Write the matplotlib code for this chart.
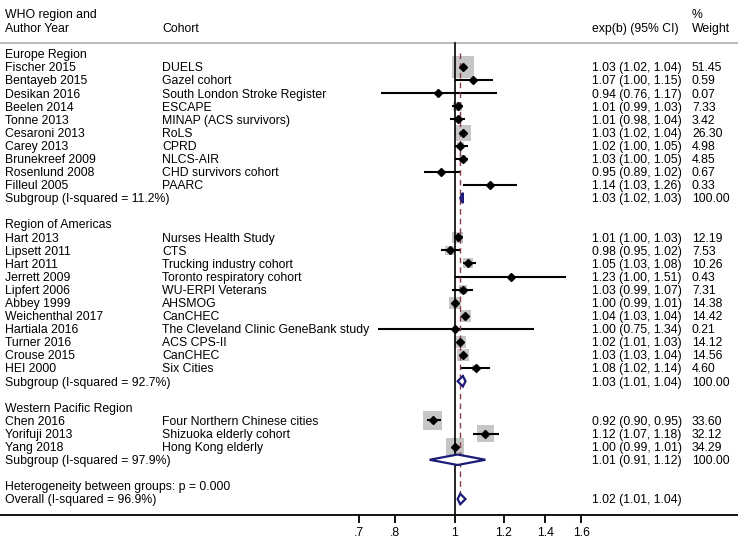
import matplotlib
matplotlib.use("Agg")
import matplotlib.pyplot as plt
import numpy as np
from matplotlib.patches import Polygon
from matplotlib.ticker import FixedLocator, FixedFormatter, NullLocator

plt.rcParams['font.family'] = ['Liberation Sans', 'DejaVu Sans']
FONT_SIZE = 8.8

# Europe Region
eur_author = ["Fischer 2015", "Bentayeb 2015", "Desikan 2016", "Beelen 2014",
              "Tonne 2013", "Cesaroni 2013", "Carey 2013", "Brunekreef 2009",
              "Rosenlund 2008", "Filleul 2005"]
eur_cohort = ["DUELS", "Gazel cohort", "South London Stroke Register", "ESCAPE",
              "MINAP (ACS survivors)", "RoLS", "CPRD", "NLCS-AIR",
              "CHD survivors cohort", "PAARC"]
eur_est = [1.03, 1.07, 0.94, 1.01, 1.01, 1.03, 1.02, 1.03, 0.95, 1.14]
eur_lo = [1.02, 1.00, 0.76, 0.99, 0.98, 1.02, 1.00, 1.00, 0.89, 1.03]
eur_hi = [1.04, 1.15, 1.17, 1.03, 1.04, 1.04, 1.05, 1.05, 1.02, 1.26]
eur_wt = [51.45, 0.59, 0.07, 7.33, 3.42, 26.30, 4.98, 4.85, 0.67, 0.33]
eur_sub = (1.03, 1.02, 1.03)
eur_i2 = 11.2

# Region of Americas
amr_author = ["Hart 2013", "Lipsett 2011", "Hart 2011", "Jerrett 2009",
              "Lipfert 2006", "Abbey 1999", "Weichenthal 2017", "Hartiala 2016",
              "Turner 2016", "Crouse 2015", "HEI 2000"]
amr_cohort = ["Nurses Health Study", "CTS", "Trucking industry cohort",
              "Toronto respiratory cohort", "WU-ERPI Veterans", "AHSMOG", "CanCHEC",
              "The Cleveland Clinic GeneBank study", "ACS CPS-II", "CanCHEC",
              "Six Cities"]
amr_est = [1.01, 0.98, 1.05, 1.23, 1.03, 1.00, 1.04, 1.00, 1.02, 1.03, 1.08]
amr_lo = [1.00, 0.95, 1.03, 1.00, 0.99, 0.99, 1.03, 0.75, 1.01, 1.03, 1.02]
amr_hi = [1.03, 1.02, 1.08, 1.51, 1.07, 1.01, 1.04, 1.34, 1.03, 1.04, 1.14]
amr_wt = [12.19, 7.53, 10.26, 0.43, 7.31, 14.38, 14.42, 0.21, 14.12, 14.56, 4.60]
amr_sub = (1.03, 1.01, 1.04)
amr_i2 = 92.7

# Western Pacific Region
wpr_author = ["Chen 2016", "Yorifuji 2013", "Yang 2018"]
wpr_cohort = ["Four Northern Chinese cities", "Shizuoka elderly cohort",
              "Hong Kong elderly"]
wpr_est = [0.92, 1.12, 1.00]
wpr_lo = [0.90, 1.07, 0.99]
wpr_hi = [0.95, 1.18, 1.01]
wpr_wt = [33.60, 32.12, 34.29]
wpr_sub = (1.01, 0.91, 1.12)
wpr_i2 = 97.9

overall = (1.02, 1.01, 1.04)
overall_i2 = 96.9
het_p = 0.000

tick_vals = [0.7, 0.8, 1, 1.2, 1.4, 1.6]
tick_labels = [".7", ".8", "1", "1.2", "1.4", "1.6"]

regions = [
  ("Europe Region", eur_author, eur_cohort, eur_est, eur_lo, eur_hi, eur_wt, eur_sub, eur_i2),
  ("Region of Americas", amr_author, amr_cohort, amr_est, amr_lo, amr_hi, amr_wt, amr_sub, amr_i2),
  ("Western Pacific Region", wpr_author, wpr_cohort, wpr_est, wpr_lo, wpr_hi, wpr_wt, wpr_sub, wpr_i2),
]

NAVY = "#1c1c78"
BOX = "#c6c6c6"


def ci_text(est, lo, hi):
  return "{:.2f} ({:.2f}, {:.2f})".format(est, lo, hi)


def diamond(ax, row, est, lo, hi, half=0.4):
  pts = [(lo, row), (est, row - half), (hi, row), (est, row + half)]
  ax.add_patch(Polygon(pts, closed=True, facecolor="white", edgecolor=NAVY,
                       linewidth=1.6, zorder=4))


fig = plt.figure(figsize=(7.38, 5.40), dpi=100)
ax = fig.add_axes([0, 25 / 540, 1, 515 / 540])
ax.set_xscale('log')
ax.set_xlim(0.1843, 2.864)
ax.set_ylim(35.22, -4.125)
for side in ('top', 'left', 'right'):
  ax.spines[side].set_visible(False)
ax.spines['bottom'].set_linewidth(1.3)
ax.yaxis.set_visible(False)
ax.xaxis.set_major_locator(FixedLocator(tick_vals))
ax.xaxis.set_major_formatter(FixedFormatter(tick_labels))
ax.xaxis.set_minor_locator(NullLocator())
ax.tick_params(axis='x', length=6, width=1.3, labelsize=FONT_SIZE, pad=3)

tr = ax.get_yaxis_transform()
X_AUTH, X_COH, X_CI, X_WT = 5 / 738, 162 / 738, 592 / 738, 692 / 738
OFF = 0.33


def label(x, row, s):
  ax.text(x, row + OFF, s, transform=tr, fontsize=FONT_SIZE, va='baseline', ha='left')


# header
label(X_AUTH, -3.06, "WHO region and")
label(X_AUTH, -1.99, "Author Year")
label(X_COH, -1.99, "Cohort")
label(X_CI, -1.99, "exp(b) (95% CI)")
label(X_WT, -3.06, "%")
label(X_WT, -1.99, "Weight")
ax.axhline(-0.84, color="#bdbdbd", linewidth=1.5)

row = 0
for name, authors, cohorts, est, lo, hi, wt, sub, i2 in regions:
  label(X_AUTH, row, name)
  row += 1
  rows = np.arange(row, row + len(authors))
  for r, a, c, e, l, h, w in zip(rows, authors, cohorts, est, lo, hi, wt):
    label(X_AUTH, r, a)
    label(X_COH, r, c)
    label(X_CI, r, ci_text(e, l, h))
    label(X_WT, r, "{:.2f}".format(w))
  sides = 3.12 * np.sqrt(wt) * 0.72
  ax.scatter(est, rows, marker='s', s=sides ** 2, color=BOX, linewidths=0, zorder=2)
  ax.hlines(rows, lo, hi, color="black", linewidth=1.5, zorder=3)
  ax.plot(est, rows, 'D', color="black", markersize=3.8, zorder=5)
  row = rows[-1] + 1
  label(X_AUTH, row, "Subgroup (I-squared = {:.1f}%)".format(i2))
  label(X_CI, row, ci_text(*sub))
  label(X_WT, row, "100.00")
  diamond(ax, row, *sub)
  row += 2

label(X_AUTH, row, "Heterogeneity between groups: p = {:.3f}".format(het_p))
row += 1
label(X_AUTH, row, "Overall (I-squared = {:.1f}%)".format(overall_i2))
label(X_CI, row, ci_text(*overall))
diamond(ax, row, *overall)

ax.plot([1, 1], [-0.84, 35.22], color="black", linewidth=1.2, zorder=3)
ax.plot([overall[0], overall[0]], [-0.1, row - 0.45], color="#8c3b44",
        linewidth=1.0, linestyle=(0, (4, 3)), zorder=3.5)

fig.savefig("out.png", dpi=100)
